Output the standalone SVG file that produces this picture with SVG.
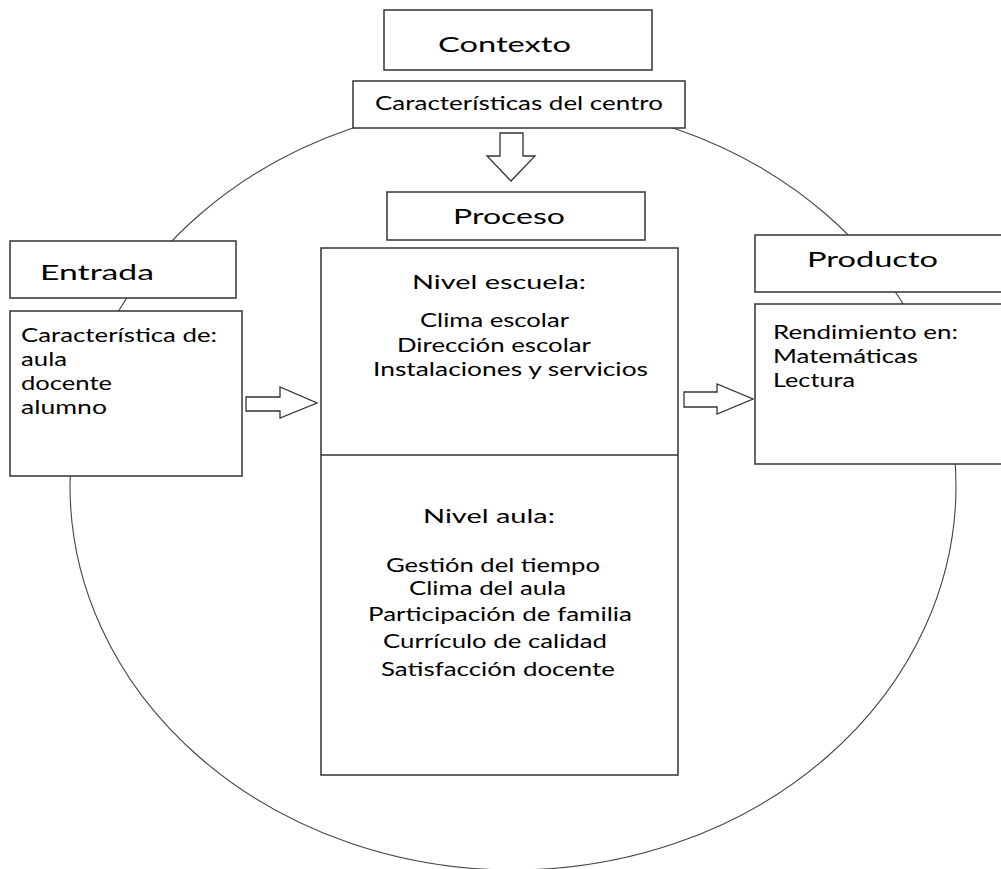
<svg xmlns="http://www.w3.org/2000/svg" width="1001" height="869" viewBox="0 0 1001 869">
<style>
.box{fill:#fff;stroke:#333;stroke-width:1.5}
.arrow{fill:#fff;stroke:#333;stroke-width:1.3;stroke-linejoin:miter}
.ring{fill:none;stroke:#444;stroke-width:1.1}
text{font-family:Lato,"Open Sans","DejaVu Sans",sans-serif;fill:#000}
.h{font-size:22px}
.b{font-size:19.5px}
</style>
<rect width="1001" height="869" fill="#fff"/>
<g id="ellipse">
<ellipse class="ring" cx="513" cy="486" rx="443" ry="384"/>
</g>
<g id="connectors">
<path class="arrow" d="M500,133 H523 V156 H535 L511,181 L487,156 H500 Z"/>
<path class="arrow" d="M246,397 H280 V387 L317,403 L280,418 V411 H246 Z"/>
<path class="arrow" d="M684,392 H717 V384 L753,399 L717,414 V407 H684 Z"/>
</g>
<g id="contexto">
<rect class="box" x="384" y="10" width="268" height="60"/>
<text class="h" x="438" y="52" textLength="133" lengthAdjust="spacingAndGlyphs">Contexto</text>
</g>
<g id="caracteristicas-centro">
<rect class="box" x="353" y="81" width="332" height="47"/>
<text class="b" x="375" y="110" textLength="288" lengthAdjust="spacingAndGlyphs">Características del centro</text>
</g>
<g id="proceso">
<rect class="box" x="387" y="192" width="258" height="48"/>
<text class="h" x="453" y="224" textLength="112" lengthAdjust="spacingAndGlyphs">Proceso</text>
</g>
<g id="proceso-detalle">
<rect class="box" x="321" y="248" width="357" height="527"/>
<line x1="321" y1="455" x2="678" y2="455" stroke="#333" stroke-width="1.5"/>
<text class="b" x="412" y="289" textLength="174" lengthAdjust="spacingAndGlyphs">Nivel escuela:</text>
<text class="b" x="420" y="327" textLength="149" lengthAdjust="spacingAndGlyphs">Clima escolar</text>
<text class="b" x="397" y="352" textLength="194" lengthAdjust="spacingAndGlyphs">Dirección escolar</text>
<text class="b" x="373" y="376" textLength="275" lengthAdjust="spacingAndGlyphs">Instalaciones y servicios</text>
<text class="b" x="423" y="523" textLength="132" lengthAdjust="spacingAndGlyphs">Nivel aula:</text>
<text class="b" x="386" y="572" textLength="214" lengthAdjust="spacingAndGlyphs">Gestión del tiempo</text>
<text class="b" x="409" y="595" textLength="157" lengthAdjust="spacingAndGlyphs">Clima del aula</text>
<text class="b" x="368" y="621" textLength="264" lengthAdjust="spacingAndGlyphs">Participación de familia</text>
<text class="b" x="383" y="648" textLength="224" lengthAdjust="spacingAndGlyphs">Currículo de calidad</text>
<text class="b" x="381" y="676" textLength="234" lengthAdjust="spacingAndGlyphs">Satisfacción docente</text>
</g>
<g id="entrada">
<rect class="box" x="10" y="241" width="226" height="57"/>
<text class="h" x="40" y="280" textLength="114" lengthAdjust="spacingAndGlyphs">Entrada</text>
</g>
<g id="entrada-detalle">
<rect class="box" x="10" y="311" width="232" height="165"/>
<text class="b" x="21" y="342" textLength="196" lengthAdjust="spacingAndGlyphs">Característica de:</text>
<text class="b" x="21" y="366" textLength="46" lengthAdjust="spacingAndGlyphs">aula</text>
<text class="b" x="21" y="390" textLength="91" lengthAdjust="spacingAndGlyphs">docente</text>
<text class="b" x="21" y="414" textLength="86" lengthAdjust="spacingAndGlyphs">alumno</text>
</g>
<g id="producto">
<rect class="box" x="755" y="235" width="260" height="57"/>
<text class="h" x="807" y="267" textLength="131" lengthAdjust="spacingAndGlyphs">Producto</text>
</g>
<g id="producto-detalle">
<rect class="box" x="755" y="304" width="260" height="160"/>
<text class="b" x="773" y="339" textLength="185" lengthAdjust="spacingAndGlyphs">Rendimiento en:</text>
<text class="b" x="773" y="363" textLength="145" lengthAdjust="spacingAndGlyphs">Matemáticas</text>
<text class="b" x="773" y="387" textLength="82" lengthAdjust="spacingAndGlyphs">Lectura</text>
</g>
</svg>
